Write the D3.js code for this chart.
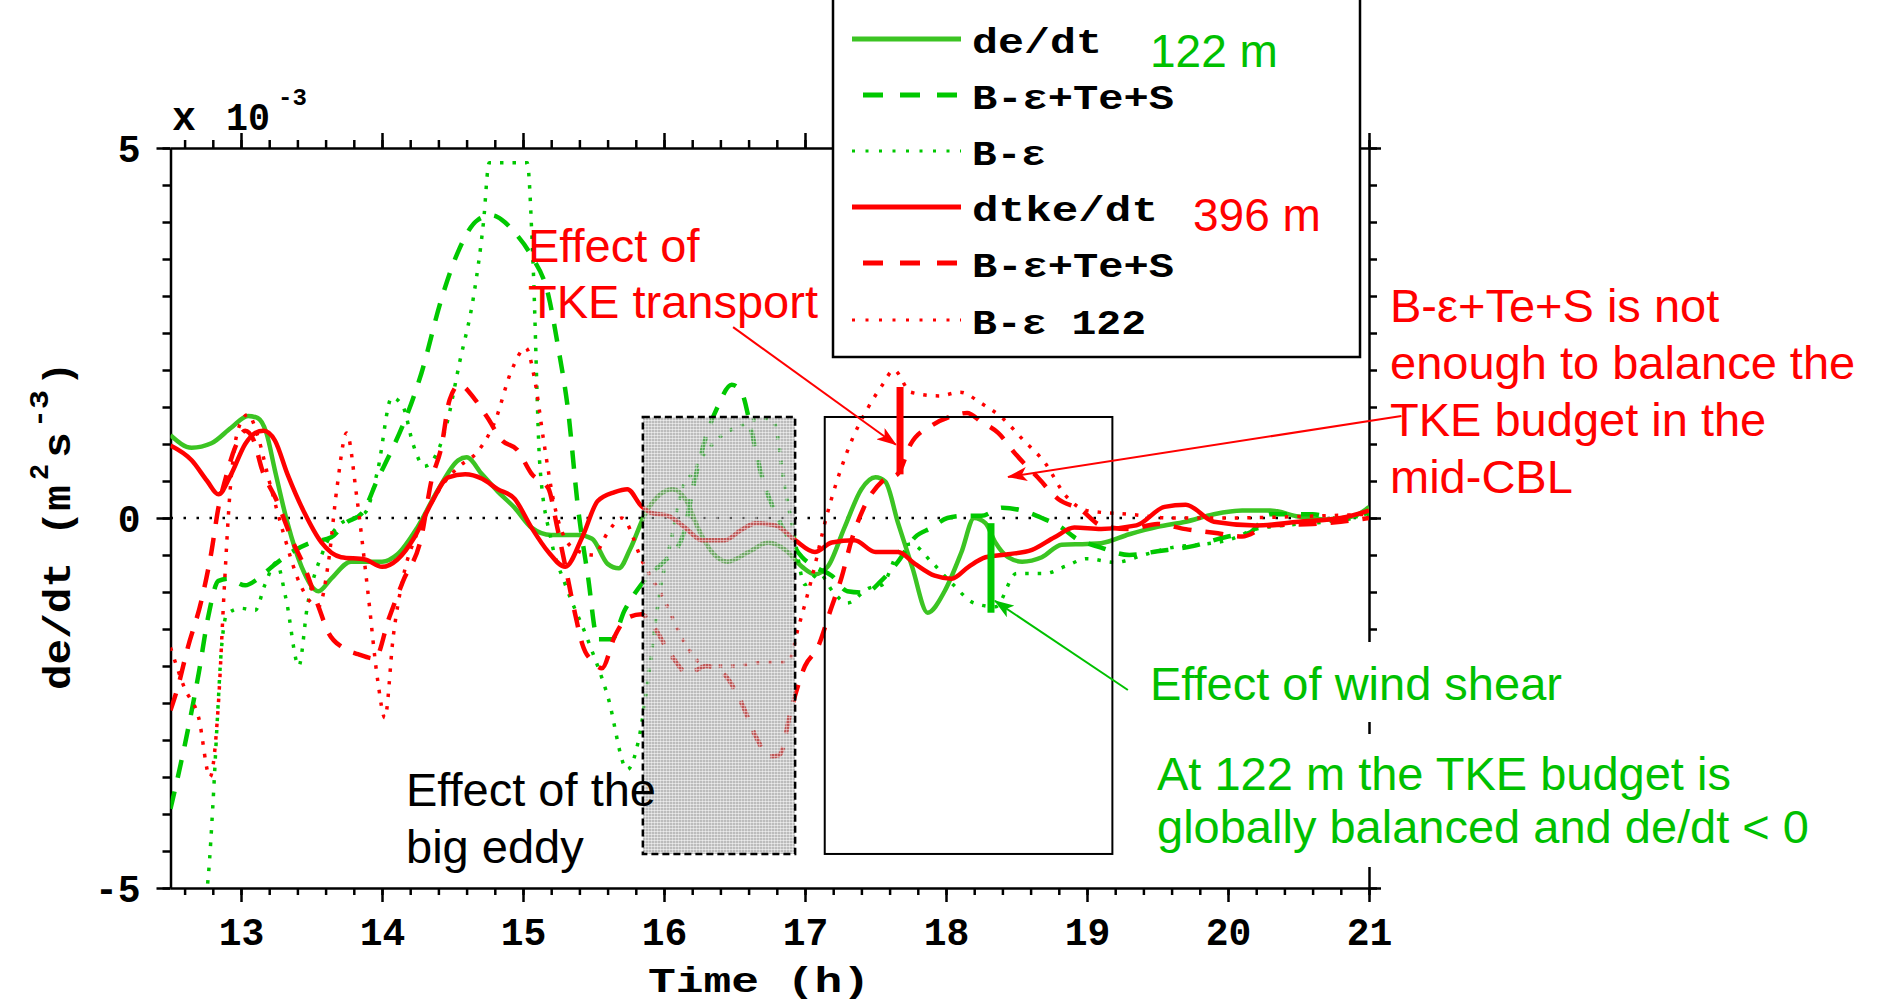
<!DOCTYPE html>
<html>
<head>
<meta charset="utf-8">
<script src="https://cdn.jsdelivr.net/npm/d3@7"></script>
<style>
  html, body { margin: 0; padding: 0; background: #fff; }
  svg { display: block; }
  .mono { font-family: "Liberation Mono", "Courier New", monospace; font-weight: bold; fill: #000; }
  .sans { font-family: "Liberation Sans", Arial, sans-serif; }
</style>
</head>
<body>
<svg id="chart" width="1881" height="1002"></svg>
<script>
// ---- axis ticks -----------------------------------------------------------
const xMajorTicks = [13, 14, 15, 16, 17, 18, 19, 20, 21];
const xMinorTicks = d3.range(12.6, 21.001, 0.2);
const yMajorTicks = [-5, 0, 5];
const yMinorTicks = d3.range(-5, 5.001, 0.5);
const yTickLabels = ["-5", "0", "5"];

// ---- 122 m : de/dt (solid) ------------------------------------------------
const tDeDt122 = [12.50,12.65,12.79,12.93,13.05,13.12,13.18,13.24,13.33,13.43,13.55,13.64,13.78,14.00,14.11,14.25,14.40,14.54,14.60,14.71,14.82,14.94,15.06,15.20,15.39,15.49,15.60,15.68,15.76,15.87,15.96,16.06,16.16,16.24,16.34,16.45,16.60,16.74,16.86,16.98,17.07,17.16,17.28,17.40,17.50,17.57,17.66,17.76,17.87,17.99,18.11,18.20,18.28,18.35,18.44,18.54,18.68,18.82,19.00,19.10,19.30,19.50,19.70,19.90,20.10,20.30,20.50,20.70,20.90,21.00];
const vDeDt122 = [1.12,0.95,1.01,1.22,1.38,1.35,1.15,0.65,-0.07,-0.66,-0.99,-0.82,-0.59,-0.59,-0.49,-0.13,0.39,0.78,0.82,0.59,0.36,0.14,-0.13,-0.23,-0.23,-0.28,-0.62,-0.68,-0.42,0.07,0.30,0.39,0.23,-0.13,-0.46,-0.59,-0.46,-0.33,-0.43,-0.66,-0.76,-0.66,-0.13,0.39,0.55,0.49,-0.07,-0.66,-1.28,-0.99,-0.46,0.00,-0.07,-0.33,-0.53,-0.59,-0.53,-0.36,-0.35,-0.34,-0.22,-0.12,-0.05,0.05,0.10,0.10,0.02,-0.02,0.03,0.15];

// ---- 122 m : B-eps+Te+S (dashed) ------------------------------------------
const tSum122 = [12.50,12.60,12.70,12.77,12.84,12.91,13.03,13.12,13.22,13.36,13.50,13.64,13.74,13.86,13.97,14.07,14.16,14.28,14.42,14.54,14.68,14.78,14.85,14.94,15.06,15.18,15.25,15.32,15.39,15.46,15.53,15.63,15.72,15.80,15.89,16.00,16.13,16.22,16.29,16.38,16.48,16.55,16.62,16.69,16.79,16.88,16.98,17.07,17.19,17.30,17.43,17.54,17.66,17.78,17.90,18.01,18.13,18.25,18.40,18.54,18.68,18.82,18.91,19.10,19.30,19.50,19.75,20.00,20.15,20.30,20.60,20.80,21.00];
const vSum122 = [-3.93,-3.08,-2.10,-1.31,-0.85,-0.82,-0.91,-0.82,-0.66,-0.46,-0.33,-0.26,-0.07,0.07,0.53,0.92,1.31,1.96,2.95,3.60,4.03,4.09,4.03,3.86,3.54,3.01,2.30,1.45,0.14,-0.78,-1.64,-1.64,-1.25,-1.00,-0.78,-0.59,-0.26,0.53,1.05,1.50,1.80,1.70,1.18,0.59,0.07,-0.26,-0.53,-0.66,-0.78,-0.99,-1.01,-0.85,-0.59,-0.26,-0.13,0.00,0.03,0.03,0.14,0.10,0.00,-0.13,-0.26,-0.40,-0.50,-0.45,-0.38,-0.25,-0.20,0.05,0.05,-0.02,0.08];

// ---- 122 m : B-eps (dotted) -----------------------------------------------
const tBe122 = [12.70,12.77,12.80,12.83,12.86,12.90,13.00,13.10,13.17,13.25,13.32,13.41,13.47,13.58,13.71,13.80,13.88,13.97,14.07,14.15,14.22,14.30,14.45,14.55,14.65,14.72,14.76,14.90,15.03,15.07,15.12,15.20,15.30,15.45,15.60,15.74,15.82,15.90,15.97,16.05,16.13,16.20,16.30,16.40,16.55,16.70,16.78,16.85,16.92,17.00,17.10,17.20,17.30,17.45,17.55,17.65,17.75,17.90,18.05,18.20,18.35,18.50,18.70,18.85,19.00,19.20,19.40,19.60,19.85,20.00,20.20,20.40,20.70,21.00];
const vBe122 = [-5.60,-4.80,-3.90,-2.80,-1.80,-1.30,-1.22,-1.25,-0.90,-0.60,-1.10,-2.00,-1.20,-0.46,-0.07,0.00,0.07,0.65,1.63,1.50,1.00,0.70,1.20,2.10,3.00,4.00,4.80,4.80,4.80,3.50,0.70,-0.30,-0.90,-1.60,-2.40,-3.40,-3.00,-2.00,-1.00,-0.30,0.40,0.60,0.90,1.10,1.25,1.35,1.30,0.50,-0.20,-0.90,-0.75,-1.00,-1.15,-0.95,-0.90,-0.50,-0.35,-0.60,-0.90,-1.15,-1.20,-0.75,-0.75,-0.65,-0.55,-0.60,-0.50,-0.40,-0.35,-0.30,-0.15,-0.10,-0.05,0.05];

// ---- 396 m : dtke/dt (solid) ----------------------------------------------
const tDtke396 = [12.50,12.65,12.76,12.84,12.93,13.03,13.10,13.16,13.24,13.33,13.45,13.57,13.71,13.88,14.00,14.11,14.23,14.35,14.47,14.59,14.71,14.82,14.94,15.06,15.18,15.30,15.42,15.53,15.65,15.74,15.84,15.91,16.03,16.15,16.27,16.43,16.55,16.65,16.79,16.93,17.07,17.19,17.35,17.50,17.66,17.78,17.92,18.04,18.16,18.28,18.44,18.61,18.77,18.91,19.10,19.35,19.55,19.70,19.90,20.20,20.50,20.80,21.00];
const vDtke396 = [0.98,0.78,0.50,0.32,0.59,1.00,1.15,1.18,1.05,0.59,0.07,-0.33,-0.53,-0.56,-0.66,-0.56,-0.26,0.20,0.55,0.59,0.53,0.39,0.26,-0.13,-0.46,-0.66,-0.26,0.23,0.35,0.39,0.16,0.07,0.03,-0.13,-0.30,-0.30,-0.16,-0.07,-0.10,-0.30,-0.46,-0.33,-0.30,-0.46,-0.46,-0.62,-0.78,-0.82,-0.66,-0.53,-0.49,-0.43,-0.26,-0.13,-0.15,-0.10,0.15,0.18,-0.05,-0.10,-0.05,0.00,0.10];

// ---- 396 m : B-eps+Te+S (dashed) ------------------------------------------
const tSum396 = [12.50,12.55,12.62,12.72,12.79,12.84,12.89,12.96,13.03,13.09,13.15,13.25,13.37,13.45,13.55,13.62,13.72,13.83,13.95,14.05,14.15,14.28,14.35,14.42,14.48,14.55,14.66,14.75,14.85,14.96,15.06,15.18,15.24,15.30,15.37,15.42,15.50,15.56,15.65,15.74,15.84,15.92,16.05,16.17,16.30,16.42,16.55,16.65,16.75,16.82,16.90,17.00,17.09,17.18,17.26,17.33,17.42,17.55,17.66,17.75,17.90,18.05,18.15,18.25,18.37,18.50,18.65,18.80,18.95,19.10,19.30,19.50,19.70,19.90,20.10,20.30,20.60,20.80,21.00];
const vSum396 = [-2.60,-2.30,-1.77,-1.11,-0.46,0.14,0.53,0.96,1.18,1.05,0.65,0.25,-0.33,-0.66,-1.20,-1.55,-1.75,-1.84,-1.90,-1.35,-0.85,-0.25,0.50,0.95,1.60,1.80,1.60,1.35,1.05,0.92,0.60,0.40,-0.10,-0.65,-1.30,-1.70,-1.95,-2.03,-1.60,-1.35,-1.30,-1.45,-1.85,-2.10,-2.00,-2.10,-2.50,-2.95,-3.22,-3.20,-2.60,-2.00,-1.75,-1.25,-0.80,-0.30,0.15,0.50,0.60,1.00,1.25,1.38,1.42,1.30,1.15,0.85,0.55,0.25,0.12,-0.10,-0.15,-0.08,-0.15,-0.20,-0.25,-0.10,-0.08,-0.05,0.00];

// ---- B-eps 122 (dotted, red) ----------------------------------------------
const tBeRed = [12.50,12.60,12.70,12.78,12.84,12.88,12.92,12.98,13.05,13.12,13.20,13.30,13.42,13.55,13.62,13.68,13.75,13.82,13.90,13.97,14.02,14.08,14.15,14.25,14.35,14.45,14.55,14.68,14.80,14.92,15.02,15.08,15.15,15.22,15.35,15.50,15.60,15.70,15.85,16.00,16.15,16.30,16.50,16.70,16.88,16.95,17.05,17.15,17.30,17.45,17.55,17.63,17.75,17.95,18.10,18.25,18.40,18.55,18.70,18.85,19.00,19.30,19.60,20.00,20.50,21.00];
const vBeRed = [-1.75,-2.30,-2.70,-3.50,-2.50,-1.00,0.30,1.20,1.40,1.10,0.50,-0.20,-0.90,-1.20,-0.60,0.40,1.15,0.30,-1.00,-2.20,-2.70,-1.60,-0.80,-0.20,0.20,0.50,0.70,0.90,1.30,2.00,2.30,1.90,1.00,0.20,-0.40,-0.50,-0.20,0.00,-0.60,-1.10,-1.70,-2.00,-2.00,-1.95,-1.95,-1.50,-0.80,0.00,0.90,1.50,1.80,2.00,1.70,1.65,1.70,1.55,1.35,1.05,0.75,0.30,0.10,0.05,0.00,0.00,0.02,0.05];

// ---- legend entries ----------------------------------------------------------
const legendLabels = ["de/dt", "B-\u03b5+Te+S", "B-\u03b5", "dtke/dt", "B-\u03b5+Te+S", "B-\u03b5 122"];

// ---- layout ------------------------------------------------------------------
const plot = { left: 170.5, right: 1369, top: 148, bottom: 888 };
const x = d3.scaleLinear().domain([12.5, 21]).range([plot.left, plot.right]);
const y = d3.scaleLinear().domain([-5, 5]).range([plot.bottom, plot.top]);

const GREEN_SOLID = "#3cc423";
const GREEN = "#00c800";
const RED = "#ff0000";
const TEXT_GREEN = "#00c000";

const svg = d3.select("#chart");

const defs = svg.append("defs");
defs.append("clipPath").attr("id", "plotClip")
  .append("rect")
  .attr("x", plot.left).attr("y", plot.top)
  .attr("width", plot.right - plot.left).attr("height", plot.bottom - plot.top);

// fine mesh used for the shaded interval
const pat = defs.append("pattern").attr("id", "mesh")
  .attr("patternUnits", "userSpaceOnUse").attr("width", 3).attr("height", 3);
pat.append("rect").attr("width", 3).attr("height", 3).attr("fill", "#8f8f8f").attr("fill-opacity", 0.6);
pat.append("rect").attr("width", 3).attr("height", 1).attr("fill", "#ffffff").attr("fill-opacity", 0.5);
pat.append("rect").attr("width", 1).attr("height", 3).attr("fill", "#ffffff").attr("fill-opacity", 0.4);

function arrowMarker(id, color) {
  defs.append("marker").attr("id", id)
    .attr("markerUnits", "userSpaceOnUse")
    .attr("viewBox", "0 0 20 14")
    .attr("markerWidth", 20).attr("markerHeight", 14)
    .attr("refX", 19).attr("refY", 7)
    .attr("orient", "auto")
    .append("path").attr("d", "M0,0 L20,7 L0,14 L5,7 Z").attr("fill", color);
}
arrowMarker("arrowRed", RED);
arrowMarker("arrowGreen", TEXT_GREEN);

// ---- axes --------------------------------------------------------------------
function styleAxis(g) {
  g.selectAll("path, line").attr("stroke", "#000").attr("stroke-width", 2.5);
}
const axes = svg.append("g");

// bottom
axes.append("g").attr("transform", `translate(0,${plot.bottom})`)
  .call(d3.axisBottom(x).tickValues(xMinorTicks).tickSize(7).tickSizeOuter(0).tickFormat(""))
  .call(styleAxis);
const xb = axes.append("g").attr("transform", `translate(0,${plot.bottom})`)
  .call(d3.axisBottom(x).tickValues(xMajorTicks).tickSize(14).tickSizeOuter(0).tickFormat(d3.format("d")))
  .call(styleAxis);
xb.select(".domain").remove();
xb.selectAll("text").attr("class", "mono").attr("font-size", 38)
  .attr("y", 57).attr("dy", 0).attr("fill", "#000");

// top
axes.append("g").attr("transform", `translate(0,${plot.top})`)
  .call(d3.axisTop(x).tickValues(xMinorTicks).tickSize(8).tickSizeOuter(0).tickFormat(""))
  .call(styleAxis);
axes.append("g").attr("transform", `translate(0,${plot.top})`)
  .call(d3.axisTop(x).tickValues(xMajorTicks).tickSize(15).tickSizeOuter(0).tickFormat(""))
  .call(styleAxis).select(".domain").remove();

// left
axes.append("g").attr("transform", `translate(${plot.left},0)`)
  .call(d3.axisLeft(y).tickValues(yMinorTicks).tickSize(8).tickSizeOuter(0).tickFormat(""))
  .call(styleAxis);
const yl = axes.append("g").attr("transform", `translate(${plot.left},0)`)
  .call(d3.axisLeft(y).tickValues(yMajorTicks).tickSize(14).tickSizeOuter(0)
    .tickFormat((d, i) => yTickLabels[i]))
  .call(styleAxis);
yl.select(".domain").remove();
yl.selectAll("text").attr("class", "mono").attr("font-size", 38)
  .attr("x", -30).attr("dy", "0.36em").attr("fill", "#000");

// right
axes.append("g").attr("transform", `translate(${plot.right},0)`)
  .call(d3.axisRight(y).tickValues(yMinorTicks).tickSize(8).tickSizeOuter(0).tickFormat(""))
  .call(styleAxis);
axes.append("g").attr("transform", `translate(${plot.right},0)`)
  .call(d3.axisRight(y).tickValues(yMajorTicks).tickSize(12).tickSizeOuter(0).tickFormat(""))
  .call(styleAxis).select(".domain").remove();

// zero reference
svg.append("line")
  .attr("x1", plot.left).attr("x2", plot.right)
  .attr("y1", y(0)).attr("y2", y(0))
  .attr("stroke", "#000").attr("stroke-width", 2.5)
  .attr("stroke-dasharray", "2.5,10.5");

// ---- series -------------------------------------------------------------------
const series = [
  { t: tDeDt122, v: vDeDt122, color: GREEN_SOLID, width: 4.5, dash: null },
  { t: tSum122,  v: vSum122,  color: GREEN,       width: 4.5, dash: "18,14" },
  { t: tBe122,   v: vBe122,   color: GREEN,       width: 3.5, dash: "3.5,9" },
  { t: tDtke396, v: vDtke396, color: RED,         width: 4.5, dash: null },
  { t: tSum396,  v: vSum396,  color: RED,         width: 4.5, dash: "18,14" },
  { t: tBeRed,   v: vBeRed,   color: RED,         width: 3.5, dash: "3.5,9" }
];

const line = d3.line()
  .x(d => x(d[0])).y(d => y(d[1]))
  .curve(d3.curveMonotoneX);

const lines = svg.append("g").attr("clip-path", "url(#plotClip)");
series.forEach(s => {
  lines.append("path")
    .datum(d3.zip(s.t, s.v))
    .attr("d", line)
    .attr("fill", "none")
    .attr("stroke", s.color)
    .attr("stroke-width", s.width)
    .attr("stroke-dasharray", s.dash)
    .attr("stroke-linejoin", "round");
});

// ---- highlighted intervals ------------------------------------------------------
const eddyBox  = { t0: 15.85, t1: 16.93, v0: -4.54, v1: 1.365 };
const focusBox = { t0: 17.14, t1: 19.18, v0: -4.54, v1: 1.365 };

svg.append("rect")
  .attr("x", x(eddyBox.t0)).attr("y", y(eddyBox.v1))
  .attr("width", x(eddyBox.t1) - x(eddyBox.t0)).attr("height", y(eddyBox.v0) - y(eddyBox.v1))
  .attr("fill", "url(#mesh)")
  .attr("stroke", "#000").attr("stroke-width", 2.5).attr("stroke-dasharray", "7,4");

svg.append("rect")
  .attr("x", x(focusBox.t0)).attr("y", y(focusBox.v1))
  .attr("width", x(focusBox.t1) - x(focusBox.t0)).attr("height", y(focusBox.v0) - y(focusBox.v1))
  .attr("fill", "none").attr("stroke", "#000").attr("stroke-width", 2);

// ---- markers of the two effects --------------------------------------------------
const transportBar = { t: 17.674, v0: 0.59, v1: 1.77 };
const shearBar     = { t: 18.319, v0: -1.28, v1: -0.07 };
svg.append("line")
  .attr("x1", x(transportBar.t)).attr("x2", x(transportBar.t))
  .attr("y1", y(transportBar.v0)).attr("y2", y(transportBar.v1))
  .attr("stroke", RED).attr("stroke-width", 7);
svg.append("line")
  .attr("x1", x(shearBar.t)).attr("x2", x(shearBar.t))
  .attr("y1", y(shearBar.v0)).attr("y2", y(shearBar.v1))
  .attr("stroke", "#00c800").attr("stroke-width", 7);

// ---- legend -----------------------------------------------------------------------
const legend = svg.append("g");
legend.append("rect")
  .attr("x", 833).attr("y", -5).attr("width", 527).attr("height", 362)
  .attr("fill", "#fff").attr("stroke", "#000").attr("stroke-width", 2.5);

const legendRowY = [39, 95, 151, 207, 263, 320];
const legendTextLen = [130, 202, 74, 186, 202, 174];
series.forEach((s, i) => {
  const ly = legendRowY[i];
  const dotted = s.width < 4;
  legend.append("line")
    .attr("x1", s.dash && !dotted ? 863 : 852).attr("x2", 961)
    .attr("y1", ly).attr("y2", ly)
    .attr("stroke", s.color).attr("stroke-width", dotted ? 3 : 5)
    .attr("stroke-dasharray", s.dash ? (dotted ? "3,10.5" : "20,17") : null);
  legend.append("text").attr("class", "mono")
    .attr("x", 972).attr("y", ly + 14)
    .attr("font-size", 35)
    .attr("textLength", legendTextLen[i]).attr("lengthAdjust", "spacingAndGlyphs")
    .text(legendLabels[i]);
});
legend.append("text").attr("class", "sans").attr("x", 1150).attr("y", 67)
  .attr("font-size", 46).attr("fill", TEXT_GREEN).text("122 m");
legend.append("text").attr("class", "sans").attr("x", 1193).attr("y", 231)
  .attr("font-size", 46).attr("fill", RED).text("396 m");

// ---- axis titles ------------------------------------------------------------------------
svg.append("text").attr("class", "mono").attr("x", 172).attr("y", 130).attr("font-size", 40).text("x");
svg.append("text").attr("class", "mono").attr("x", 226).attr("y", 130).attr("font-size", 38)
  .attr("textLength", 44).attr("lengthAdjust", "spacingAndGlyphs").text("10");
svg.append("text").attr("class", "mono").attr("x", 278).attr("y", 105).attr("font-size", 24).text("-3");

svg.append("text").attr("class", "mono")
  .attr("x", 759).attr("y", 992).attr("text-anchor", "middle")
  .attr("font-size", 35).attr("textLength", 222).attr("lengthAdjust", "spacingAndGlyphs")
  .text("Time (h)");

// y title built from pieces along the rotated baseline
const yTitle = svg.append("g").attr("transform", "translate(70,690) rotate(-90)");
yTitle.append("text").attr("class", "mono").attr("x", 0).attr("y", 0).attr("font-size", 38)
  .attr("textLength", 205).attr("lengthAdjust", "spacingAndGlyphs").text("de/dt (m");
yTitle.append("text").attr("class", "mono").attr("x", 210).attr("y", -22).attr("font-size", 27).text("2");
yTitle.append("text").attr("class", "mono").attr("x", 232).attr("y", 0).attr("font-size", 38)
  .attr("textLength", 26).attr("lengthAdjust", "spacingAndGlyphs").text("s");
yTitle.append("text").attr("class", "mono").attr("x", 262).attr("y", -22).attr("font-size", 27)
  .attr("textLength", 38).attr("lengthAdjust", "spacingAndGlyphs").text("-3");
yTitle.append("text").attr("class", "mono").attr("x", 304).attr("y", 0).attr("font-size", 38)
  .attr("textLength", 24).attr("lengthAdjust", "spacingAndGlyphs").text(")");

// ---- annotations ----------------------------------------------------------------------------
const notes = svg.append("g").attr("class", "sans").attr("font-size", 47);

// white panels behind the right-hand notes
notes.append("rect").attr("x", 1140).attr("y", 642).attr("width", 741).attr("height", 80).attr("fill", "#fff");
notes.append("rect").attr("x", 1140).attr("y", 734).attr("width", 741).attr("height", 133).attr("fill", "#fff");

function note(lines, px, py, lh, color) {
  const t = notes.append("text").attr("fill", color);
  lines.forEach((s, i) => t.append("tspan").attr("x", px).attr("y", py + i * lh).text(s));
}
note(["Effect of", "TKE transport"], 528, 262, 56, RED);
note(["Effect of the", "big eddy"], 406, 806, 57, "#000");
note(["B-\u03b5+Te+S is not", "enough to balance the", "TKE budget in the", "mid-CBL"], 1390, 322, 57, RED);
note(["Effect of wind shear"], 1150, 700, 0, TEXT_GREEN);
note(["At 122 m the TKE budget is", "globally balanced and de/dt < 0"], 1157, 790, 53, TEXT_GREEN);

// arrows pointing at the effects
const arrows = [
  { from: [16.49, 2.58],  to: [17.645, 0.99], color: RED,        marker: "arrowRed" },
  { from: [21.23, 1.378], to: [18.44, 0.555], color: RED,        marker: "arrowRed" },
  { from: [19.29, -2.324], to: [18.347, -1.12], color: TEXT_GREEN, marker: "arrowGreen" }
];
arrows.forEach(a => {
  svg.append("line")
    .attr("x1", x(a.from[0])).attr("y1", y(a.from[1]))
    .attr("x2", x(a.to[0])).attr("y2", y(a.to[1]))
    .attr("stroke", a.color).attr("stroke-width", 2)
    .attr("marker-end", `url(#${a.marker})`);
});
</script>
</body>
</html>
